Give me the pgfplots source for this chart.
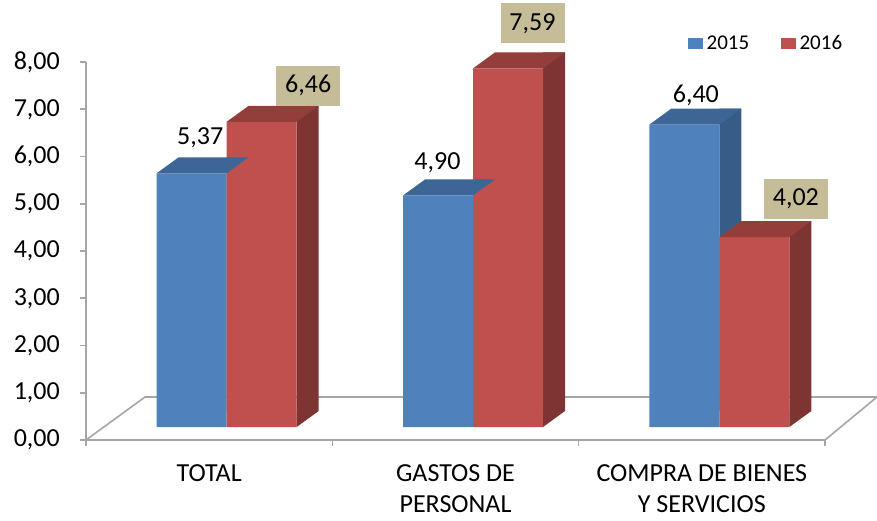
\documentclass[border=0pt]{standalone}
\usepackage{fontspec}
\setmainfont{Carlito}
\usepackage{pgfplots}
\pgfplotsset{compat=1.18}
\usepackage{pgfplotstable}
\definecolor{blueF}{HTML}{4F81BD}
\definecolor{blueT}{HTML}{3D6596}
\definecolor{blueS}{HTML}{385C88}
\definecolor{redF}{HTML}{C0504D}
\definecolor{redT}{HTML}{943E3B}
\definecolor{redS}{HTML}{7E3432}
\definecolor{tanL}{HTML}{C4BD97}
\definecolor{axgray}{HTML}{A6A6A6}

\pgfplotstableread{
x v15 v16 ox15 oy15 ox16 oy16
0 5.37 6.46 -9 49 99 49
1 4.90 7.59 -18 46 77 58
2 6.40 4.02 -6 42 94 51
}\data

% top faces of the 3D boxes (drawn at the value point)
\pgfdeclareplotmark{capB}{%
 \pgfpathmoveto{\pgfqpoint{-52.5pt}{13pt}}%
 \pgfpathlineto{\pgfqpoint{17.5pt}{13pt}}%
 \pgfpathlineto{\pgfqpoint{39.5pt}{29pt}}%
 \pgfpathlineto{\pgfqpoint{-30.5pt}{29pt}}%
 \pgfpathclose\pgfusepathqfill}
\pgfdeclareplotmark{capR}{%
 \pgfpathmoveto{\pgfqpoint{17.5pt}{13pt}}%
 \pgfpathlineto{\pgfqpoint{87.5pt}{13pt}}%
 \pgfpathlineto{\pgfqpoint{109.5pt}{29pt}}%
 \pgfpathlineto{\pgfqpoint{39.5pt}{29pt}}%
 \pgfpathclose\pgfusepathqfill}
% lower corner of the side face (drawn at the base)
\pgfdeclareplotmark{botR}{%
 \pgfpathmoveto{\pgfqpoint{87.5pt}{13pt}}%
 \pgfpathlineto{\pgfqpoint{87.5pt}{29pt}}%
 \pgfpathlineto{\pgfqpoint{109.5pt}{29pt}}%
 \pgfpathclose\pgfusepathqfill}

\begin{document}
\begin{tikzpicture}
\useasboundingbox (0,0) rectangle (877pt,520pt);
\begin{axis}[
  at={(86pt,80pt)}, anchor=south west,
  scale only axis, width=739pt, height=378pt,
  xmin=-0.5, xmax=2.5, ymin=0, ymax=8,
  clip=false,
  axis lines*=left,
  axis line style={axgray, line width=1.6pt},
  tick align=outside, major tick length=6pt,
  tick style={axgray, line width=1.6pt},
  xtick={-0.5,0.5,1.5,2.5}, xticklabels={},
  extra x ticks={0,1,2},
  extra x tick labels={TOTAL,{GASTOS DE\\PERSONAL},{COMPRA DE BIENES\\Y SERVICIOS}},
  extra x tick style={major tick length=0pt},
  xticklabel style={align=center, font=\fontsize{26}{31}\selectfont, inner sep=0pt, anchor=north, yshift=-24pt},
  ytick={0,1,...,8},
  yticklabel style={font=\fontsize{26}{30}\selectfont, inner sep=0pt, anchor=east, xshift=-20pt,
    /pgf/number format/fixed, /pgf/number format/fixed zerofill,
    /pgf/number format/precision=2, /pgf/number format/use comma},
  /pgf/number format/assume math mode=true,
  legend image code/.code={\fill[#1] (0pt,-5pt) rectangle (14pt,5pt);},
  legend style={at={(0.8146,1.0503)}, anchor=west, draw=none, fill=none, inner sep=0pt,
    font=\fontsize{21}{24}\selectfont, nodes={inner xsep=4pt}},
  legend columns=2,
  legend cell align=left,
  /tikz/every even column/.append style={column sep=28pt},
]
\addlegendimage{blueF}
\addlegendimage{redF}
\addlegendentry{2015}
\addlegendentry{2016}

% floor
\addplot[draw=axgray, line width=1.6pt, mark=none] coordinates {(-0.5,0) (-0.2605,0.91) (2.711,0.91) (2.5,0)};

% 2015
\addplot[ybar, bar width=22pt, bar shift=28.5pt, yshift=29pt, fill=blueS, draw=none] table[x=x,y=v15]{\data};
\addplot[ybar, bar width=70pt, bar shift=-17.5pt, yshift=13pt, fill=blueF, draw=none] table[x=x,y=v15]{\data};
\addplot[only marks, mark=capB, mark options={fill=blueT, draw=none},
  point meta=y,
  visualization depends on={\thisrow{ox15} \as \ox},
  visualization depends on={\thisrow{oy15} \as \oy},
  nodes near coords={\pgfmathprintnumber[fixed,fixed zerofill,precision=2,use comma]{\pgfplotspointmeta}},
  every node near coord/.append style={anchor=center, xshift=\ox, yshift=\oy, inner sep=0pt,
    font=\fontsize{26}{30}\selectfont, text=black}]
  table[x=x,y=v15]{\data};

% 2016
\addplot[ybar, bar width=22pt, bar shift=98.5pt, yshift=29pt, fill=redS, draw=none] table[x=x,y=v16]{\data};
\addplot[only marks, mark=botR, mark options={fill=redS, draw=none}] coordinates {(0,0) (1,0) (2,0)};
\addplot[ybar, bar width=70pt, bar shift=52.5pt, yshift=13pt, fill=redF, draw=none] table[x=x,y=v16]{\data};
\addplot[only marks, mark=capR, mark options={fill=redT, draw=none},
  point meta=y,
  visualization depends on={\thisrow{ox16} \as \ox},
  visualization depends on={\thisrow{oy16} \as \oy},
  nodes near coords={\pgfmathprintnumber[fixed,fixed zerofill,precision=2,use comma]{\pgfplotspointmeta}},
  every node near coord/.append style={anchor=center, xshift=\ox, yshift=\oy, inner sep=0pt,
    fill=tanL, minimum width=64pt, minimum height=40pt,
    font=\fontsize{26}{30}\selectfont, text=black}]
  table[x=x,y=v16]{\data};
\end{axis}
\end{tikzpicture}
\end{document}
